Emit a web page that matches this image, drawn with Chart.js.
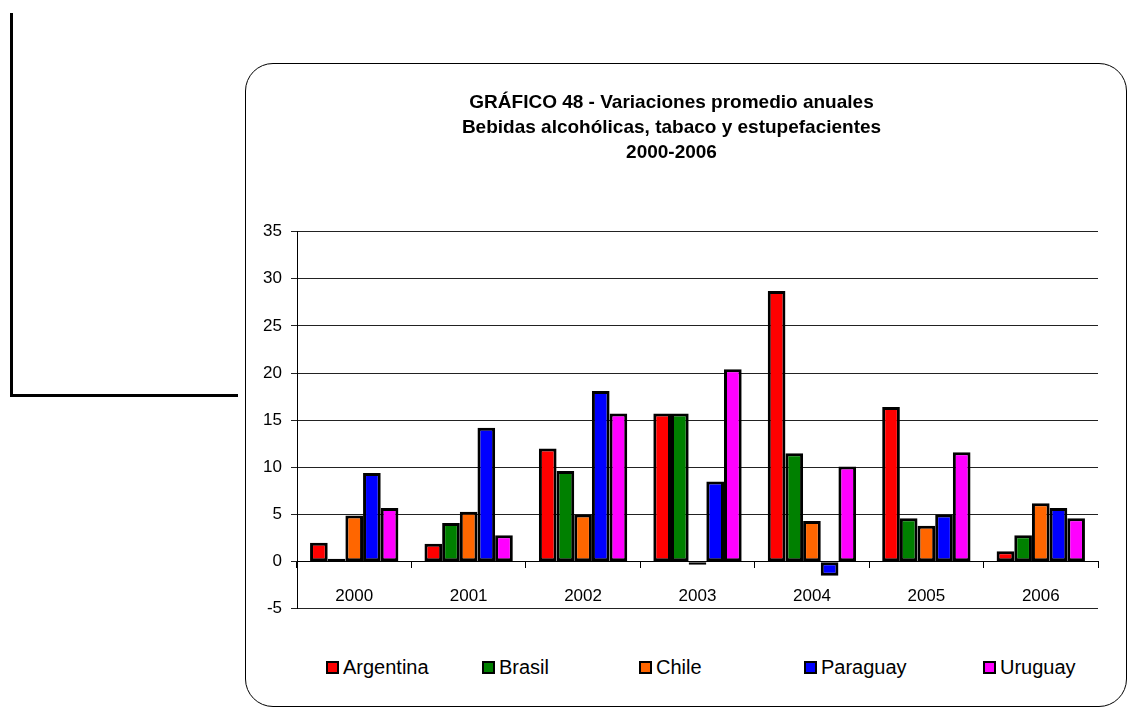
<!DOCTYPE html>
<html>
<head>
<meta charset="utf-8">
<title>GRÁFICO 48</title>
<script src="https://cdn.jsdelivr.net/npm/chart.js@4/dist/chart.umd.min.js"></script>
<style>
  html, body { margin: 0; padding: 0; background: #fff; }
  body { width: 1128px; height: 707px; position: relative; overflow: hidden; font-family: "Liberation Sans", Arial, sans-serif; }
  .deco-v { position: absolute; left: 10px; top: 13px; width: 3px; height: 384px; background: #000; }
  .deco-h { position: absolute; left: 10px; top: 394px; width: 228px; height: 3px; background: #000; }
  .frame { position: absolute; left: 245px; top: 63px; width: 880px; height: 642px; border: 1px solid #000; border-radius: 28px; }
  #wrap { position: absolute; left: 245px; top: 63px; width: 854px; height: 565px; }
  .legend-item { position: absolute; top: 656px; height: 22px; line-height: 22px; font-size: 20px; color: #000; white-space: nowrap; }
  .legend-item span.box { display: inline-block; width: 9px; height: 9px; border: 2px solid #000; margin-right: 4px; vertical-align: 0px; }
</style>
</head>
<body>
<div class="deco-v"></div>
<div class="deco-h"></div>
<div class="frame"></div>
<div id="wrap"><canvas id="chart"></canvas></div>
<div id="legend"></div>

<script>
// Data
const years = ['2000', '2001', '2002', '2003', '2004', '2005', '2006'];
const countries = ['Argentina', 'Brasil', 'Chile', 'Paraguay', 'Uruguay'];
const argentina = [2.0, 1.9, 12.0, 15.7, 28.7, 16.4, 1.1];
const brasil = [0.1, 4.1, 9.6, 15.7, 11.5, 4.6, 2.8];
const chile = [4.9, 5.3, 5.0, -0.2, 4.3, 3.8, 6.2];
const paraguay = [9.4, 14.2, 18.1, 8.5, -1.5, 5.0, 5.7];
const uruguay = [5.7, 2.8, 15.7, 20.4, 10.1, 11.6, 4.6];
const colors = ['#ff0000', '#008000', '#ff6600', '#0000ff', '#ff00ff'];
const titleLines = [
  'GRÁFICO 48 - Variaciones promedio anuales',
  'Bebidas alcohólicas, tabaco y estupefacientes',
  '2000-2006'
];
const legendLeft = [326, 482, 639, 804, 983];

const series = [argentina, brasil, chile, paraguay, uruguay];
const font = "'Liberation Sans', Arial, sans-serif";

const datasets = countries.map((name, i) => ({
  label: name,
  data: series[i],
  backgroundColor: colors[i],
  borderColor: '#000',
  borderWidth: 3,
  borderSkipped: false,
  minBarLength: 3,
  barPercentage: 1.0,
  categoryPercentage: 0.772
}));

new Chart(document.getElementById('chart'), {
  type: 'bar',
  data: { labels: years, datasets: datasets },
  options: {
    responsive: true,
    maintainAspectRatio: false,
    animation: false,
    layout: { padding: { left: 0, right: 1, top: 28, bottom: 11 } },
    plugins: {
      legend: { display: false },
      tooltip: { enabled: false },
      title: {
        display: true,
        text: titleLines,
        color: '#000',
        font: { family: font, size: 19, weight: 'bold', lineHeight: 1.29 },
        padding: { top: 0, bottom: 67 }
      }
    },
    scales: {
      x: {
        position: { y: 0 },
        grid: { display: true, drawOnChartArea: false, drawTicks: true, tickLength: 6, color: '#000', offset: true },
        border: { display: true, color: '#000', width: 1 },
        ticks: { color: '#000', font: { family: font, size: 17 }, padding: 18, maxRotation: 0 }
      },
      y: {
        min: -5,
        max: 35,
        grid: { color: '#222', lineWidth: 1, tickLength: 6 },
        border: { display: true, color: '#000', width: 1 },
        ticks: { stepSize: 5, color: '#000', font: { family: font, size: 17 }, padding: 9 },
        afterFit: function(scale) { scale.width = 52; }
      }
    }
  }
});

// Legend laid out like the original spreadsheet legend
const legendEl = document.getElementById('legend');
countries.forEach((name, i) => {
  const item = document.createElement('div');
  item.className = 'legend-item';
  item.style.left = legendLeft[i] + 'px';
  item.innerHTML = `<span class="box" style="background:${colors[i]}"></span>${name}`;
  legendEl.appendChild(item);
});
</script>
</body>
</html>
